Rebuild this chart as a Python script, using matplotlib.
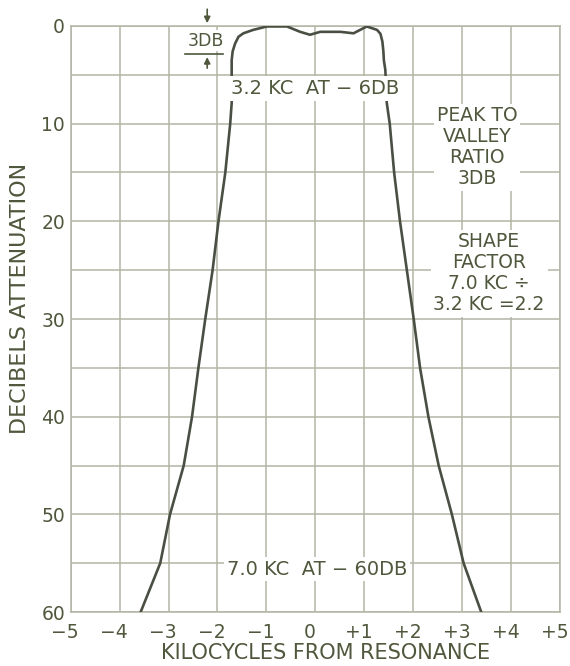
import matplotlib as mpl
mpl.use('Agg')
import matplotlib.pyplot as plt
from matplotlib.transforms import ScaledTranslation

# response curve (kilocycles from resonance, dB attenuation)
kc = [-3.57, -3.17, -2.97, -2.69, -2.52, -2.39, -2.25, -2.10, -1.98, -1.84, -1.74,
      -1.71, -1.71, -1.71, -1.69, -1.64, -1.57, -1.47, -1.27, -0.99, -0.58, -0.31,
      -0.11, 0.10, 0.51, 0.78, 1.05, 1.26, 1.33, 1.37, 1.39, 1.40, 1.43, 1.46, 1.52,
      1.61, 1.73, 1.87, 2.01, 2.14, 2.31, 2.52, 2.79, 3.03, 3.39]
db = [60, 55, 50, 45, 40, 35, 30, 25, 20, 15, 10,
      7.9, 4.5, 3.5, 2.6, 1.8, 1.1, 0.75, 0.4, 0.05, 0.05, 0.6,
      0.9, 0.6, 0.6, 0.75, 0.05, 0.4, 0.8, 1.6, 2.6, 3.5, 4.5, 7.9, 10,
      15, 20, 25, 30, 35, 40, 45, 50, 55, 60]

x_ticks = [-5, -4, -3, -2, -1, 0, 1, 2, 3, 4, 5]
x_labels = ['\u22125', '\u22124', '\u22123', '\u22122', '\u22121', '0',
            '+1', '+2', '+3', '+4', '+5']
y_ticks = [0, 10, 20, 30, 40, 50, 60]

txt_col = '#4f573c'
grid_col = '#b3b5a6'
line_col = '#4a4f44'

fig = plt.figure(figsize=(5.7, 6.66), dpi=100)
ax = fig.add_axes([0.124, 0.081, 0.8585, 0.880])

ax.plot(kc, db, color=line_col, lw=1.9, solid_joinstyle='round', zorder=3)

ax.set_xlim(-5, 5)
ax.set_ylim(60, 0)
ax.set_xticks(x_ticks)
ax.set_xticklabels(x_labels)
ax.set_yticks(y_ticks)
ax.set_yticks(range(5, 60, 10), minor=True)
ax.grid(True, which='both', color=grid_col, lw=1.1, zorder=1)
ax.tick_params(which='both', length=0, labelsize=13.5, labelcolor=txt_col)
ax.tick_params(axis='x', pad=8)
ax.tick_params(axis='y', pad=4)
# labels in the original sit a little left of their grid lines
shift = ScaledTranslation(-4 / 72, 0, fig.dpi_scale_trans)
for lab in ax.get_xticklabels():
    lab.set_transform(lab.get_transform() + shift)
for s in ax.spines.values():
    s.set_color(grid_col)
    s.set_linewidth(1.1)

ax.set_xlabel('KILOCYCLES FROM RESONANCE', fontsize=15, color=txt_col)
ax.xaxis.set_label_coords(0.52, -0.052)
ax.set_ylabel('DECIBELS ATTENUATION', fontsize=16, color=txt_col)
ax.yaxis.set_label_coords(-0.083, 0.535)

box = dict(facecolor='white', edgecolor='none', pad=2)
ax.text(0.0, 6.4, '3.2 KC  AT \u2212 6DB', fontsize=14, color=txt_col,
        ha='center', va='center', bbox=box, zorder=4)
ax.text(0.04, 55.6, '7.0 KC  AT \u2212 60DB', fontsize=14, color=txt_col,
        ha='center', va='center', bbox=box, zorder=4)
ax.text(3.31, 12.4, 'PEAK TO\nVALLEY\nRATIO\n3DB', fontsize=13.5, color=txt_col,
        ha='center', va='center', linespacing=1.12, bbox=box, zorder=4)
ax.text(3.55, 25.3, 'SHAPE\nFACTOR\n7.0 KC \u00f7\n3.2 KC =2.2', fontsize=13.5,
        color=txt_col, ha='center', va='center', linespacing=1.12, bbox=box, zorder=4)

# 3 dB marker
ax.text(-2.23, 1.5, '3DB', fontsize=12.5, color=txt_col, ha='center', va='center',
        bbox=dict(facecolor='white', edgecolor='none', pad=1), zorder=4)
ax.plot([-2.66, -1.88], [2.9, 2.9], color=txt_col, lw=1.2, zorder=4)
ax.annotate('', xy=(-2.21, 0), xytext=(-2.21, -2.0), annotation_clip=False,
            arrowprops=dict(arrowstyle='-|>', color=txt_col, lw=1.2, mutation_scale=9))
ax.annotate('', xy=(-2.21, 2.9), xytext=(-2.21, 4.6),
            arrowprops=dict(arrowstyle='-|>', color=txt_col, lw=1.2, mutation_scale=9))

plt.savefig('out.png', dpi=100)
